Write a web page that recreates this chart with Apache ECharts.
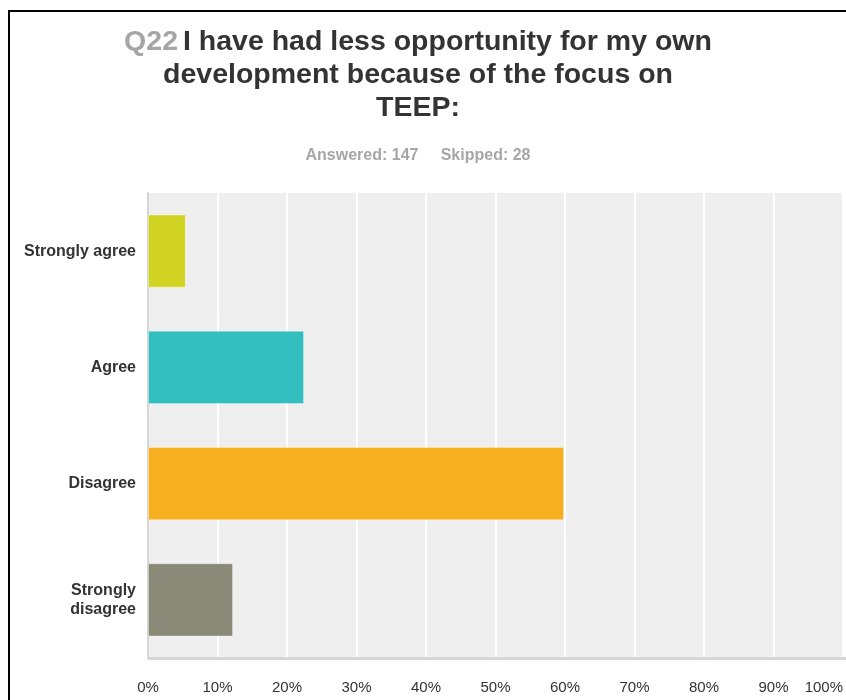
<!DOCTYPE html>
<html>
<head>
<meta charset="utf-8">
<script src="https://cdn.jsdelivr.net/npm/echarts@6/dist/echarts.min.js"></script>
<style>
html,body{margin:0;padding:0;background:#fff;}
#chart{width:846px;height:700px;}
</style>
</head>
<body>
<div id="chart"></div>
<script>
// Survey answers, top to bottom
const categories = ['Strongly agree', 'Agree', 'Disagree', 'Strongly\ndisagree'];
const percents = [5.44, 22.45, 59.86, 12.24];
const barColors = ['#d0d322', '#33bec0', '#f7af1f', '#8a8a79'];
const tickValues = [0, 10, 20, 30, 40, 50, 60, 70, 80, 90, 100];

const FONT = 'Liberation Sans, Arial';

const chart = echarts.init(document.getElementById('chart'));
chart.setOption({
  animation: false,
  backgroundColor: '#fff',
  title: {
    left: 413,
    top: 21,
    textAlign: 'center',
    text: '{q|Q22} {t|I have had less opportunity for my own}\n{t|development because of the focus on}\n{t|TEEP:}',
    textStyle: {
      rich: {
        q: { fontFamily: FONT, fontSize: 28.5, fontWeight: 'bold', color: '#a6a6a6', lineHeight: 33 },
        t: { fontFamily: FONT, fontSize: 28.5, fontWeight: 'bold', color: '#333', lineHeight: 33 }
      }
    },
    subtext: 'Answered: 147     Skipped: 28',
    itemGap: 27,
    subtextStyle: { fontFamily: FONT, fontSize: 16, fontWeight: 'bold', color: '#a6a6a6' }
  },
  graphic: [{
    type: 'rect', silent: true, z: 100,
    shape: { x: 9, y: 11, width: 900, height: 800 },
    style: { fill: 'none', stroke: '#000', lineWidth: 2 }
  }],
  grid: { left: 148, top: 193, right: 3, bottom: 42, show: true, backgroundColor: '#efefef', borderWidth: 0 },
  xAxis: {
    type: 'value', min: 0, max: 100, interval: 10,
    axisLine: { show: false },
    axisTick: { show: false },
    splitLine: { show: true, lineStyle: { color: '#fff', width: 2 } },
    axisLabel: {
      margin: 22, color: '#333', fontFamily: FONT, fontSize: 15,
      alignMaxLabel: 'right',
      formatter: v => tickValues.includes(v) ? v + '%' : ''
    }
  },
  yAxis: {
    type: 'category', inverse: true, data: categories,
    axisLine: { show: true, lineStyle: { color: '#d6d6d6', width: 2 } },
    axisTick: { show: false },
    axisLabel: { margin: 12, color: '#333', fontFamily: FONT, fontSize: 16, fontWeight: 'bold', lineHeight: 19 }
  },
  series: [{
    type: 'bar',
    barCategoryGap: '37%',
    data: percents.map((v, i) => ({ value: v, itemStyle: { color: barColors[i] } })),
    itemStyle: { borderColor: 'rgba(255,255,255,0.35)', borderWidth: 1 },
    markLine: {
      silent: true, symbol: 'none', label: { show: false },
      lineStyle: { color: '#d6d6d6', width: 3, type: 'solid' },
      data: [[{ coord: [0, 3], y: 658 }, { x: 846, y: 658 }]]
    }
  }]
});
</script>
</body>
</html>
